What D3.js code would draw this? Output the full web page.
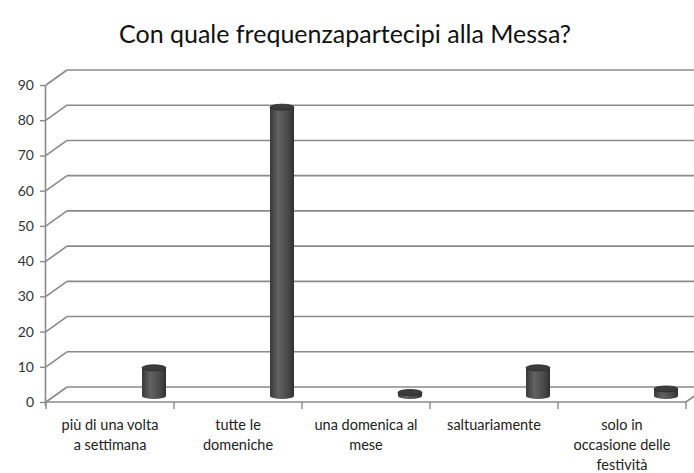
<!DOCTYPE html>
<html>
<head>
<meta charset="utf-8">
<script src="https://cdn.jsdelivr.net/npm/d3@7"></script>
<style>
  body { margin: 0; background: #fff; }
  text { font-family: Lato, "Open Sans", sans-serif; fill: #222; }
</style>
</head>
<body>
<div id="chart"></div>
<script>
var categories = ["più di una volta a settimana", "tutte le domeniche", "una domenica al mese", "saltuariamente", "solo in occasione delle festività"];
var labelLines = [["più di una volta", "a settimana"], ["tutte le", "domeniche"], ["una domenica al", "mese"], ["saltuariamente"], ["solo in", "occasione delle", "festività"]];
var values = [8, 82, 1, 8, 2];
var yTicks = [0, 10, 20, 30, 40, 50, 60, 70, 80, 90];

var width = 694, height = 473;
var depthX = 21, depthY = -15;   // offset of the back wall
var barShiftX = 44, barShiftY = -6, barW = 24, ry = 3;

var svg = d3.select("#chart").append("svg")
    .attr("width", width)
    .attr("height", height);

var x = d3.scaleBand().domain(categories).range([46, 686]);
var y = d3.scaleLinear().domain([0, 90]).range([402, 85]);

// gradient for the cylinders
var grad = svg.append("defs").append("linearGradient")
    .attr("id", "cyl").attr("x1", "0%").attr("x2", "100%");
grad.append("stop").attr("offset", "0%").attr("stop-color", "#3a3a3a");
grad.append("stop").attr("offset", "35%").attr("stop-color", "#616161");
grad.append("stop").attr("offset", "70%").attr("stop-color", "#4d4d4d");
grad.append("stop").attr("offset", "100%").attr("stop-color", "#303030");

// title
svg.append("text")
    .attr("x", 345).attr("y", 43)
    .attr("text-anchor", "middle")
    .style("font-size", "25px")
    .style("fill", "#111")
    .text("Con quale frequenzapartecipi alla Messa?");

var grid = svg.append("g")
    .attr("stroke", "#8a8a8a")
    .attr("stroke-width", 1.6)
    .attr("fill", "none");

// side wall diagonals + back wall lines
grid.selectAll(".diag")
    .data(yTicks)
    .enter().append("line")
    .attr("x1", 46).attr("y1", d => y(d))
    .attr("x2", 46 + depthX).attr("y2", d => y(d) + depthY);

grid.selectAll(".back")
    .data(yTicks)
    .enter().append("line")
    .attr("x1", 46 + depthX).attr("y1", d => y(d) + depthY)
    .attr("x2", width).attr("y2", d => y(d) + depthY);

// floor front edge and right diagonal
grid.append("line")
    .attr("x1", 46).attr("y1", y(0))
    .attr("x2", 686).attr("y2", y(0));
grid.append("line")
    .attr("x1", 686).attr("y1", y(0))
    .attr("x2", 686 + depthX).attr("y2", y(0) + depthY);

// y axis
var yAxis = d3.axisLeft(y).tickValues(yTicks).tickSize(6).tickPadding(6);
var gy = svg.append("g")
    .attr("transform", "translate(46,0)")
    .call(yAxis);
gy.select(".domain").attr("stroke", "#8a8a8a").attr("stroke-width", 1.6)
    .attr("d", "M-0.5," + (y(90)) + "V" + (y(0) + 4));
gy.selectAll(".tick line").attr("stroke", "#8a8a8a").attr("stroke-width", 1.4);
gy.selectAll(".tick text").style("font-size", "14px").style("fill", "#333")
    .style("font-family", "Lato, 'Open Sans', sans-serif");

// x category ticks
var bounds = categories.map(c => x(c)).concat([686]);
svg.append("g").selectAll("line")
    .data(bounds)
    .enter().append("line")
    .attr("x1", d => d).attr("x2", d => d)
    .attr("y1", y(0)).attr("y2", y(0) + 7)
    .attr("stroke", "#8a8a8a").attr("stroke-width", 1.4);

// x labels
var lab = svg.append("g").selectAll("text")
    .data(categories)
    .enter().append("text")
    .attr("x", d => x(d) + x.bandwidth() / 2)
    .attr("y", 430)
    .attr("text-anchor", "middle")
    .style("font-size", "14.5px")
    .style("fill", "#222");
lab.each(function(d, i) {
    var t = d3.select(this);
    labelLines[i].forEach(function(line, j) {
        t.append("tspan")
            .attr("x", x(d) + x.bandwidth() / 2)
            .attr("dy", j === 0 ? 0 : 20)
            .text(line);
    });
});

// cylinders
var bars = svg.append("g").selectAll("g")
    .data(values)
    .enter().append("g")
    .attr("transform", (d, i) => "translate(" + (x(categories[i]) + x.bandwidth() / 2 + barShiftX) + "," + barShiftY + ")");

bars.append("path")
    .attr("fill", "url(#cyl)")
    .attr("d", function(d) {
        var top = y(d), bot = y(0), r = barW / 2;
        return "M" + (-r) + "," + top + "L" + (-r) + "," + bot +
            "A" + r + "," + ry + " 0 0 0 " + r + "," + bot +
            "L" + r + "," + top + "Z";
    });

bars.append("ellipse")
    .attr("cx", 0).attr("cy", d => y(d))
    .attr("rx", barW / 2).attr("ry", ry)
    .attr("fill", "#3c3c3c")
    .attr("stroke", "#2a2a2a").attr("stroke-width", 0.8);
</script>
</body>
</html>
